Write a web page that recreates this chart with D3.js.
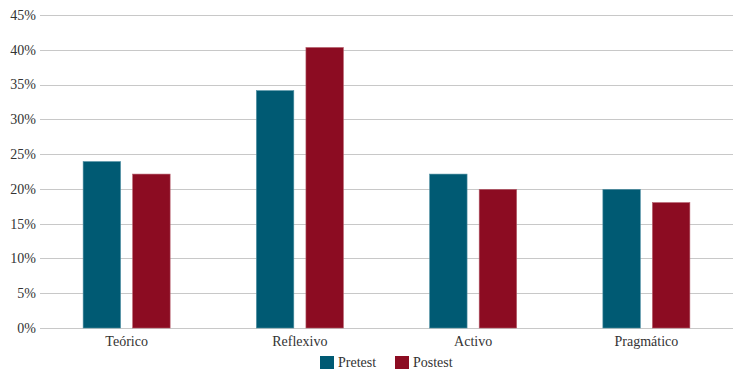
<!DOCTYPE html>
<html>
<head>
<meta charset="utf-8">
<script src="https://cdn.jsdelivr.net/npm/d3@7"></script>
<style>
  body { margin: 0; background: #fff; }
  svg text { font-family: "Liberation Serif", "DejaVu Serif", serif; fill: #333; }
</style>
</head>
<body>
<div id="wrapper"></div>
<script>
// data
const categories = ["Teórico", "Reflexivo", "Activo", "Pragmático"]
const seriesNames = ["Pretest", "Postest"]
const pretest = [24.0, 34.2, 22.2, 20.0]
const postest = [22.2, 40.4, 20.0, 18.1]
const yTicks = [0, 5, 10, 15, 20, 25, 30, 35, 40, 45]

const colors = ["#005a73", "#8c0c22"]
const strokes = ["#4f8fa2", "#b35a68"]
const serif = "'Liberation Serif', 'DejaVu Serif', serif"

function drawBars() {
  const dimensions = {
    width: 737,
    height: 370,
    margin: { top: 15, right: 4, bottom: 42, left: 40 },
  }
  dimensions.boundedWidth = dimensions.width - dimensions.margin.left - dimensions.margin.right
  dimensions.boundedHeight = dimensions.height - dimensions.margin.top - dimensions.margin.bottom

  const wrapper = d3.select("#wrapper")
    .append("svg")
      .attr("width", dimensions.width)
      .attr("height", dimensions.height)

  const bounds = wrapper.append("g")
      .attr("transform", `translate(${dimensions.margin.left},${dimensions.margin.top})`)

  // scales
  const xScale = d3.scaleBand()
    .domain(categories)
    .range([0, dimensions.boundedWidth])

  const xInner = d3.scaleBand()
    .domain(seriesNames)
    .range([0, xScale.bandwidth()])
    .paddingInner(0.2245)
    .paddingOuter(0.86)

  const yScale = d3.scaleLinear()
    .domain([0, 45])
    .range([dimensions.boundedHeight, 0])

  // gridlines
  bounds.append("g")
    .selectAll("line")
    .data(yTicks)
    .join("line")
      .attr("x1", 0)
      .attr("x2", dimensions.boundedWidth)
      .attr("y1", d => Math.round(yScale(d)) + 0.5)
      .attr("y2", d => Math.round(yScale(d)) + 0.5)
      .attr("stroke", "#c8c8c8")
      .attr("stroke-width", 1)

  // y labels
  bounds.append("g")
    .selectAll("text")
    .data(yTicks)
    .join("text")
      .attr("x", -4)
      .attr("y", d => yScale(d))
      .attr("dy", "0.35em")
      .attr("text-anchor", "end")
      .attr("font-family", serif)
      .style("font-size", "14px")
      .text(d => d + "%")

  // bars
  const rows = categories.map((c, i) => ({
    category: c,
    values: [
      { series: "Pretest", value: pretest[i], idx: 0 },
      { series: "Postest", value: postest[i], idx: 1 },
    ],
  }))

  const groups = bounds.append("g")
    .selectAll("g")
    .data(rows)
    .join("g")
      .attr("transform", d => `translate(${xScale(d.category)},0)`)

  groups.selectAll("rect")
    .data(d => d.values)
    .join("rect")
      .attr("x", d => xInner(d.series) + 0.5)
      .attr("y", d => yScale(d.value) + 0.5)
      .attr("width", xInner.bandwidth() - 1)
      .attr("height", d => yScale(0) - yScale(d.value) - 0.5)
      .attr("fill", d => colors[d.idx])
      .attr("stroke", d => strokes[d.idx])
      .attr("stroke-width", 0.6)

  // x labels
  bounds.append("g")
    .selectAll("text")
    .data(categories)
    .join("text")
      .attr("x", d => xScale(d) + xScale.bandwidth() / 2)
      .attr("y", dimensions.boundedHeight + 18)
      .attr("text-anchor", "middle")
      .attr("font-family", serif)
      .style("font-size", "14px")
      .text(d => d)

  // legend
  const legendX = [320, 395]
  const legend = wrapper.append("g")
  const items = legend.selectAll("g")
    .data(seriesNames)
    .join("g")
      .attr("transform", (d, i) => `translate(${legendX[i]},356)`)
  items.append("rect")
    .attr("width", 14)
    .attr("height", 13)
    .attr("fill", (d, i) => colors[i])
  items.append("text")
    .attr("x", 18)
    .attr("y", 11)
    .attr("font-family", serif)
    .style("font-size", "14px")
    .text(d => d)
}
drawBars()
</script>
</body>
</html>
